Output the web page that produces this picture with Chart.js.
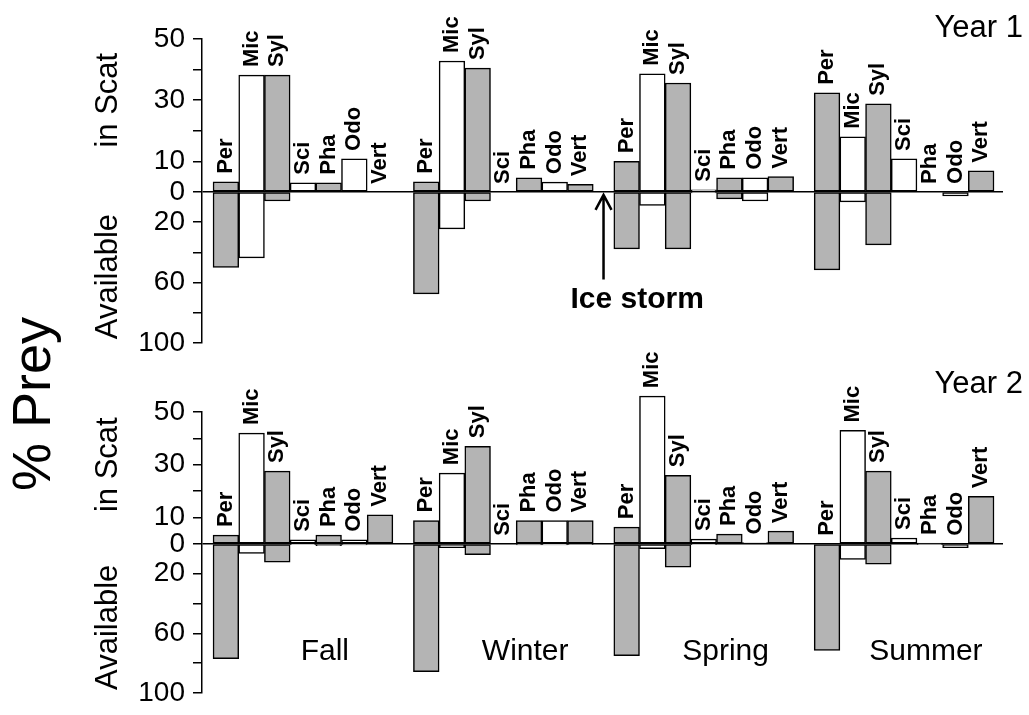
<!DOCTYPE html>
<html>
<head>
<meta charset="utf-8">
<script src="https://cdn.jsdelivr.net/npm/chart.js@4"></script>
<style>
  html, body { margin: 0; padding: 0; background: #fff; }
  #wrap { position: relative; width: 1029px; height: 715px; }
  #wrap canvas { position: absolute; left: 0; top: 0; }
</style>
</head>
<body>
<div id="wrap">
  <canvas id="year1" width="1029" height="715"></canvas>
  <canvas id="year2" width="1029" height="715"></canvas>
</div>
<script>
const SPECIES = ['Per', 'Mic', 'Syl', 'Sci', 'Pha', 'Odo', 'Vert'];
const SEASONS = ['Fall', 'Winter', 'Spring', 'Summer'];

// % of prey in scats, one row per season, columns follow SPECIES
const year1Scat = [
  [3.3, 38.2, 38.2, 3.0, 3.0, 10.8, 0],
  [3.3, 42.8, 40.5, 0, 4.6, 3.2, 2.5],
  [10.0, 38.6, 35.6, 0.7, 4.6, 4.6, 5.0],
  [32.4, 18.0, 28.8, 10.8, 0, 0, 6.9]
];
// % of prey available
const year1Avail = [
  [50, 43.7, 6, 0, 0, 0, 0],
  [67.5, 24.5, 6, 0, 0, 0, 0],
  [37.7, 9, 37.7, 0.7, 4.6, 6, 0],
  [51.6, 6.6, 35, 0, 0, 2.6, 0]
];
const year2Scat = [
  [3.3, 42, 27.6, 1.5, 3.3, 1.5, 11],
  [8.8, 26.8, 37, 0, 8.8, 8.8, 8.8],
  [6.3, 56, 26, 1.8, 3.7, 0.5, 4.8],
  [0, 43, 27.6, 2.2, 0.3, 0, 18]
];
const year2Avail = [
  [77, 6.5, 12.3, 0.5, 1.3, 0.8, 0],
  [85.7, 2.6, 7.3, 0, 0.7, 0.7, 0.5],
  [75, 3.2, 15.6, 0.5, 0, 0, 0],
  [71.4, 10.4, 13.6, 0, 0.5, 2.6, 0]
];

// axis: scat part above zero, available part below (drawn at a smaller scale)
const SCAT_TICKS = [0, 10, 20, 30, 40, 50];
const SCAT_LABELS = [0, 10, 30, 50];
const AVAIL_TICKS = [20, 40, 60, 80, 100];
const AVAIL_LABELS = [20, 60, 100];

const GRAY = '#b4b4b4';
const FONT = "'Liberation Sans', Arial, sans-serif";
const SEASON_STEP = 7.8; // 7 bars + a narrower gap, in bar widths

function xFor(s, j) { return s * SEASON_STEP + j; }

function rotText(c, text, x, y, font, align) {
  c.save();
  c.translate(x, y);
  c.rotate(-Math.PI / 2);
  c.font = font;
  c.textAlign = align || 'center';
  c.textBaseline = 'alphabetic';
  c.fillText(text, 0, 0);
  c.restore();
}

function makePanel(cfg) {
  const k = cfg.k;
  const scatPts = cfg.scat.flatMap((row, s) => row.map((v, j) => ({ x: xFor(s, j), y: v })));
  const availPts = cfg.avail.flatMap((row, s) => row.map((v, j) => ({ x: xFor(s, j), y: -v * k })));
  const fills = SEASONS.flatMap(() => SPECIES.map((_, j) => (j % 2 === 0 ? GRAY : '#fff')));
  const yTicks = SCAT_TICKS.concat(AVAIL_TICKS.map(v => -v * k));

  const barStyle = {
    backgroundColor: fills,
    borderColor: '#000',
    borderWidth: 1.5,
    borderSkipped: false,
    barPercentage: 1,
    categoryPercentage: 1,
    grouped: false,
    clip: false
  };

  const decor = {
    id: 'decor',
    afterDraw(chart) {
      const c = chart.ctx;
      const xs = chart.scales.x, ys = chart.scales.y;
      const zero = ys.getPixelForValue(0);
      c.save();
      c.fillStyle = '#000';
      c.strokeStyle = '#000';

      // species names standing above each bar
      c.font = 'bold 22px ' + FONT;
      c.textAlign = 'left';
      c.textBaseline = 'middle';
      chart.getDatasetMeta(0).data.forEach((bar, i) => {
        const top = Math.min(bar.y, zero);
        c.save();
        c.translate(bar.x, top - 8);
        c.rotate(-Math.PI / 2);
        c.fillText(SPECIES[i % SPECIES.length], 0, 0);
        c.restore();
      });

      rotText(c, 'in Scat', 117, ys.getPixelForValue(30), '31px ' + FONT);
      rotText(c, 'Available', 117, ys.getPixelForValue(-56 * k), '31px ' + FONT);
      if (cfg.prey) rotText(c, '% Prey', 50, 404, '54px ' + FONT);

      c.font = '31px ' + FONT;
      c.textAlign = 'right';
      c.textBaseline = 'alphabetic';
      c.fillText(cfg.year, chart.chartArea.right + 20, cfg.yearY);

      if (cfg.iceStorm) {
        const ax = (xs.getPixelForValue(xFor(1, 6)) + xs.getPixelForValue(xFor(2, 0))) / 2;
        const tip = zero + 3;
        const tail = ys.getPixelForValue(-58 * k);
        c.lineWidth = 2.5;
        c.beginPath();
        c.moveTo(ax, tail);
        c.lineTo(ax, tip + 2);
        c.moveTo(ax - 8, tip + 15);
        c.lineTo(ax, tip);
        c.lineTo(ax + 8, tip + 15);
        c.stroke();
        c.font = 'bold 30px ' + FONT;
        c.textAlign = 'left';
        c.fillText('Ice storm', ax - 33, ys.getPixelForValue(-77 * k));
      }

      if (cfg.seasons) {
        c.font = '30px ' + FONT;
        c.textAlign = 'center';
        SEASONS.forEach((name, s) => {
          c.fillText(name, xs.getPixelForValue(xFor(s, 3.85)), ys.getPixelForValue(-78 * k));
        });
      }
      c.restore();
    }
  };

  return new Chart(document.getElementById(cfg.id), {
    type: 'bar',
    data: {
      datasets: [
        Object.assign({ label: 'in Scat', data: scatPts }, barStyle),
        Object.assign({ label: 'Available', data: availPts }, barStyle)
      ]
    },
    options: {
      responsive: false,
      animation: false,
      events: [],
      layout: { padding: cfg.padding },
      plugins: { legend: { display: false }, tooltip: { enabled: false } },
      scales: {
        x: {
          type: 'linear',
          display: false,
          min: -0.93,
          max: 30.25,
          afterBuildTicks: s => { s.ticks = []; }
        },
        y: {
          min: -100 * k,
          max: 50,
          afterBuildTicks: s => { s.ticks = yTicks.map(v => ({ value: v })); },
          afterFit: s => { s.width = 202; },
          ticks: {
            autoSkip: false,
            color: '#000',
            padding: 8,
            font: { family: FONT, size: 28, lineHeight: 1 },
            callback: value => {
              if (value >= 0) {
                const v = Math.round(value);
                return SCAT_LABELS.includes(v) ? String(v) : '';
              }
              const v = Math.round(-value / k);
              return AVAIL_LABELS.includes(v) ? String(v) : '';
            }
          },
          grid: {
            color: ctx => (ctx.tick && Math.abs(ctx.tick.value) < 1e-9 ? '#000' : 'rgba(0,0,0,0)'),
            lineWidth: 1.5,
            tickColor: '#000',
            tickWidth: 1.5,
            tickLength: 9
          },
          border: { display: true, color: '#000', width: 1.5 }
        }
      }
    },
    plugins: [decor]
  });
}

makePanel({
  id: 'year1', year: 'Year 1', yearY: 37, k: 0.494,
  scat: year1Scat, avail: year1Avail,
  padding: { top: 39, bottom: 372, left: 0, right: 26 },
  iceStorm: true, prey: true
});
makePanel({
  id: 'year2', year: 'Year 2', yearY: 393, k: 0.566,
  scat: year2Scat, avail: year2Avail,
  padding: { top: 412, bottom: 13, left: 0, right: 26 },
  seasons: true
});
</script>
</body>
</html>
